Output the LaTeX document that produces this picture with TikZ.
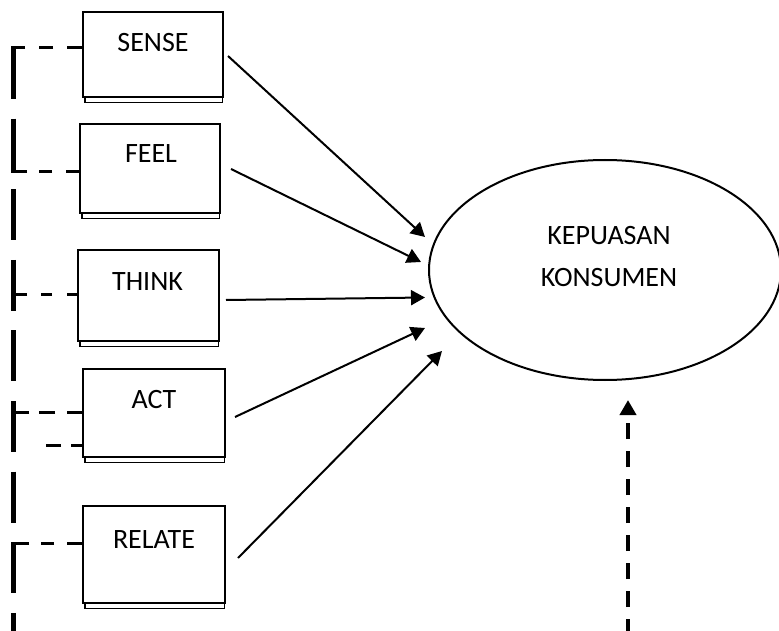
\documentclass[tikz,border=0pt]{standalone}
\usepackage{fontspec}
\setmainfont{Carlito}
\usetikzlibrary{arrows.meta,shapes.geometric}
\begin{document}
\begin{tikzpicture}[x=1pt,y=-1pt,
  box/.style={draw, line width=2pt, fill=white, inner sep=0pt},
  shadowline/.style={line width=1.6pt},
  lbl/.style={anchor=base, inner sep=0pt, font=\fontsize{28}{34}\selectfont},
  arr/.style={line width=2pt, -{Triangle[length=14pt,width=15pt]}},
  vline/.style={line width=5pt, dash pattern=on 51pt off 19.6pt},
  hline/.style={line width=3pt},
  uparr/.style={line width=4pt, dash pattern=on 16pt off 12pt, -{Triangle[length=15pt,width=16pt]}}]
\useasboundingbox (0,0) rectangle (779,631);

% ellipse
\node[draw, ellipse, line width=2pt, minimum width=352pt, minimum height=220pt, inner sep=0pt] (kep) at (605,270) {};
\node[lbl] (kep1) at (609,244) {KEPUASAN};
\node[lbl] (kep2) at (609,286) {KONSUMEN};

% boxes
\node[box, minimum width=140pt, minimum height=85pt] (sense) at (153,54.5) {};
\node[box, minimum width=140pt, minimum height=89pt] (feel) at (150,168.5) {};
\node[box, minimum width=141pt, minimum height=91pt] (think) at (148.5,295.5) {};
\node[box, minimum width=142pt, minimum height=88pt] (act) at (154,413) {};
\node[box, minimum width=142pt, minimum height=97pt] (relate) at (154,554.5) {};

% shadows
\foreach \b in {sense,feel,think,act,relate}{
  \draw[shadowline] ([xshift=3pt]\b.south west) -- ([xshift=3pt,yshift=-4.5pt]\b.south west)
    -- ([xshift=-1.5pt,yshift=-4.5pt]\b.south east) -- ([xshift=-1.5pt]\b.south east);
}

% labels
\node[lbl] (tsense) at (153,52) {SENSE};
\node[lbl] (tfeel) at (151,163) {FEEL};
\node[lbl] (tthink) at (147.5,290) {THINK};
\node[lbl] (tact) at (154,408) {ACT};
\node[lbl] (trelate) at (154,548) {RELATE};

% arrow tips
\coordinate (t1) at (425,237);
\coordinate (t2) at (421,262);
\coordinate (t3) at (425,297.5);
\coordinate (t4) at (425,328);
\coordinate (t5) at (442,351);

\draw[arr] ([xshift=4pt,yshift=-1.5pt]sense.east) -- (t1);
\draw[arr] ([xshift=10pt,yshift=-0.5pt]feel.east) -- (t2);
\draw[arr] ([xshift=6pt,yshift=-4.5pt]think.east) -- (t3);
\draw[arr] ([xshift=9pt,yshift=-4pt]act.east) -- (t4);
\draw[arr] ([xshift=12pt,yshift=-3.5pt]relate.east) -- (t5);

% dashed up arrow
\coordinate (ub) at (628,635);
\coordinate (ut) at (628,400);
\draw[uparr] (ub) -- (ut);

% left dashed bus
\coordinate (vtop) at (13.5,48);
\coordinate (vbot) at (13.5,640);
\draw[vline] (vtop) -- (vbot);

\coordinate (hs) at (11,48);
\coordinate (hf) at (11,172);
\coordinate (ht) at (11,294);
\coordinate (ha) at (11,412);
\coordinate (ha2) at (40,445);
\coordinate (hr) at (11,543);

\draw[hline, dash pattern=on 15pt off 14pt on 14pt off 14pt] (sense.west |- hs) -- (hs);
\draw[hline, dash pattern=on 13pt off 14pt on 13pt off 12pt on 30pt] (feel.west |- hf) -- (hf);
\draw[hline, dash pattern=on 10pt off 15pt on 11pt off 14pt on 30pt] (think.west |- ht) -- (ht);
\draw[hline, dash pattern=on 15pt off 12pt on 16pt off 10pt on 30pt] (act.west |- ha) -- (ha);
\draw[hline, dash pattern=on 11pt off 10pt on 15pt off 100pt] (act.west |- ha2) -- (ha2);
\draw[hline, dash pattern=on 15pt off 13pt on 13pt off 12pt on 30pt] (relate.west |- hr) -- (hr);
\end{tikzpicture}
\end{document}
